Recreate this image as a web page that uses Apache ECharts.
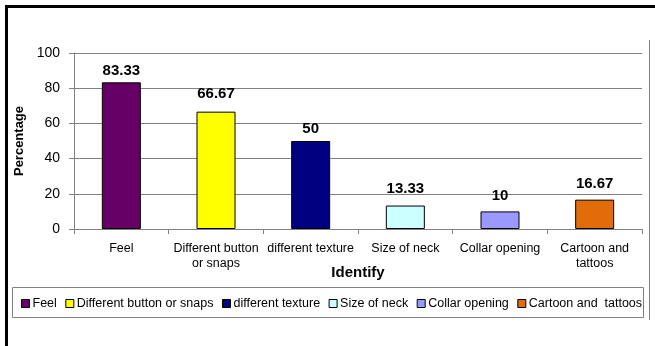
<!DOCTYPE html>
<html>
<head>
<meta charset="utf-8">
<script src="https://cdn.jsdelivr.net/npm/echarts@6/dist/echarts.min.js"></script>
<style>
  html, body { margin: 0; padding: 0; background: #ffffff; }
  #chart { width: 655px; height: 346px; }
</style>
</head>
<body>
<div id="chart"></div>
<script>
// Categories and percentages
var categories = ['Feel', 'Different button\nor snaps', 'different texture', 'Size of neck', 'Collar opening', 'Cartoon and\ntattoos'];
var legendNames = ['Feel', 'Different button or snaps', 'different texture', 'Size of neck', 'Collar opening', 'Cartoon and  tattoos'];
var values = [83.33, 66.67, 50, 13.33, 10, 16.67];
var yTicks = [0, 20, 40, 60, 80, 100];

// Styling
var colors = ['#660066', '#FFFF00', '#000080', '#CCFFFF', '#9999FF', '#E36C0A'];
var labelGap = [4, 10.5, 4.5, 9, 8.5, 8];
var FONT = '"Liberation Sans", Arial, sans-serif';

var chart = echarts.init(document.getElementById('chart'), null, { renderer: 'canvas' });

// One series per category so each gets its own legend entry; barGap -100% keeps them centred.
var series = values.map(function (v, i) {
  var data = categories.map(function (c, j) { return j === i ? v : null; });
  return {
    name: legendNames[i],
    type: 'bar',
    data: data,
    barWidth: 39,
    barGap: '-100%',
    itemStyle: { color: colors[i], borderColor: '#000000', borderWidth: 1 },
    label: {
      show: true,
      position: 'top',
      distance: labelGap[i],
      color: '#000000',
      fontFamily: FONT,
      fontWeight: 'bold',
      fontSize: 15
    },
    emphasis: { disabled: true },
    animation: false
  };
});

chart.setOption({
  backgroundColor: '#ffffff',
  animation: false,
  grid: { left: 74, right: 13, top: 53, bottom: 117, containLabel: false, outerBoundsMode: 'none' },
  xAxis: {
    type: 'category',
    data: categories,
    name: 'Identify',
    nameLocation: 'middle',
    nameGap: 36,
    nameMoveOverlap: false,
    nameTextStyle: { fontFamily: FONT, fontWeight: 'bold', fontSize: 15, color: '#000000' },
    axisLine: { lineStyle: { color: '#808080', width: 1 } },
    axisTick: { show: true, alignWithLabel: false, length: 5, lineStyle: { color: '#808080' } },
    axisLabel: {
      interval: 0,
      margin: 12,
      color: '#000000',
      fontFamily: FONT,
      fontSize: 12.5,
      lineHeight: 15
    },
    splitLine: { show: false }
  },
  yAxis: {
    type: 'value',
    min: yTicks[0],
    max: yTicks[yTicks.length - 1],
    interval: yTicks[1] - yTicks[0],
    name: 'Percentage',
    nameLocation: 'middle',
    nameGap: 48,
    nameMoveOverlap: false,
    nameTextStyle: { fontFamily: FONT, fontWeight: 'bold', fontSize: 13, color: '#000000' },
    axisLine: { show: true, lineStyle: { color: '#808080', width: 1 } },
    axisTick: { show: true, length: 5, lineStyle: { color: '#808080' } },
    axisLabel: { margin: 14, color: '#000000', fontFamily: FONT, fontSize: 14 },
    splitLine: { show: true, lineStyle: { color: '#808080', width: 1 } }
  },
  legend: {
    data: legendNames,
    left: 16,
    top: 292,
    itemWidth: 8,
    itemHeight: 8,
    itemGap: 8.5,
    icon: 'rect',
    selectedMode: false,
    itemStyle: { borderColor: '#000000', borderWidth: 1 },
    textStyle: { fontFamily: FONT, fontSize: 12.5, color: '#000000', padding: [0, 0, 0, -2] }
  },
  graphic: [
    // legend frame
    { type: 'rect', z: -1, shape: { x: 12.5, y: 287.5, width: 631, height: 30 },
      style: { fill: 'none', stroke: '#808080', lineWidth: 1 } },
    // outer frame: heavy top and left rules, thin right rule
    { type: 'rect', shape: { x: 5, y: 5, width: 650, height: 3 }, style: { fill: '#000000' } },
    { type: 'rect', shape: { x: 5, y: 5, width: 3, height: 341 }, style: { fill: '#000000' } },
    { type: 'line', shape: { x1: 649.5, y1: 40, x2: 649.5, y2: 320 }, style: { stroke: '#808080', lineWidth: 1 } }
  ],
  series: series
});
</script>
</body>
</html>
